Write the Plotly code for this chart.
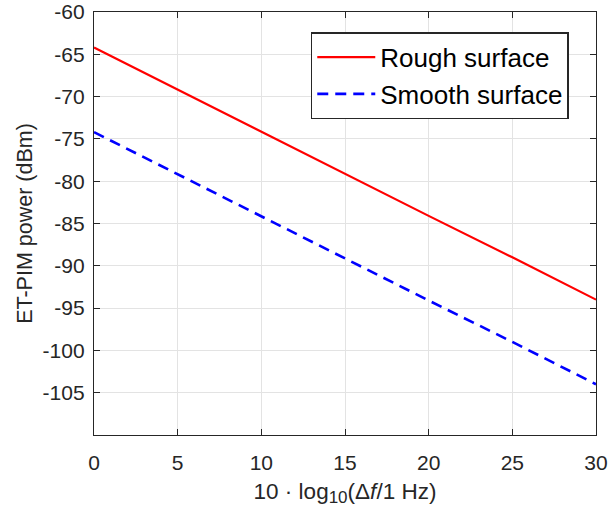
import plotly.graph_objects as go

# Frequency offset axis, 10*log10(df / 1 Hz)
freq_offset_db = [0, 5, 10, 15, 20, 25, 30]
# ET-PIM power levels (dBm)
rough_surface = [-64.2, -69.2, -74.1, -79.1, -84.1, -89.0, -94.0]
smooth_surface = [-74.2, -79.2, -84.1, -89.1, -94.1, -99.0, -104.0]

x_ticks = [0, 5, 10, 15, 20, 25, 30]
y_ticks = [-105, -100, -95, -90, -85, -80, -75, -70, -65, -60]

font_family = "Liberation Sans, Arial, sans-serif"
ink = "#262626"

fig = go.Figure()
fig.add_trace(go.Scatter(
    x=freq_offset_db, y=rough_surface, mode="lines", name="Rough surface",
    line=dict(color="#ff0000", width=2.2, dash="solid"),
))
fig.add_trace(go.Scatter(
    x=freq_offset_db, y=smooth_surface, mode="lines", name="Smooth surface",
    line=dict(color="#0000ff", width=2.6, dash="11px,7px"),
))

axis_common = dict(
    showline=True, linecolor=ink, linewidth=1.3, mirror="ticks",
    ticks="inside", ticklen=6, tickcolor=ink, tickwidth=1,
    showgrid=True, gridcolor="#e3e3e3", gridwidth=1,
    zeroline=False, automargin=False,
    tickfont=dict(size=21, color=ink, family=font_family),
)

x_title = ("10\u00a0·\u00a0log<sub><span style=\"font-size:17px\">10</span></sub>"
           "(Δ<i>f</i>/1 Hz)")

fig.update_layout(
    width=608, height=512,
    margin=dict(l=94, r=12, t=12, b=77, autoexpand=False),
    paper_bgcolor="white", plot_bgcolor="white",
    font=dict(family=font_family, color=ink),
    xaxis=dict(
        range=[0, 30], tickvals=x_ticks, ticktext=[str(v) for v in x_ticks],
        ticklabelstandoff=9,
        title=dict(text=x_title, font=dict(size=22.5), standoff=9),
        **axis_common,
    ),
    yaxis=dict(
        range=[-110, -60], tickvals=y_ticks, ticktext=[str(v) for v in y_ticks],
        ticklabelstandoff=4,
        title=dict(text="ET-PIM power (dBm)", font=dict(size=21.5), standoff=4),
        **axis_common,
    ),
    legend=dict(
        x=0.432, y=0.952, xanchor="left", yanchor="top",
        bgcolor="white", bordercolor=ink, borderwidth=1.4,
        font=dict(size=26, color="#000000", family=font_family),
        tracegroupgap=0, itemwidth=58,
    ),
    showlegend=True,
)

fig.write_html("out.html")
